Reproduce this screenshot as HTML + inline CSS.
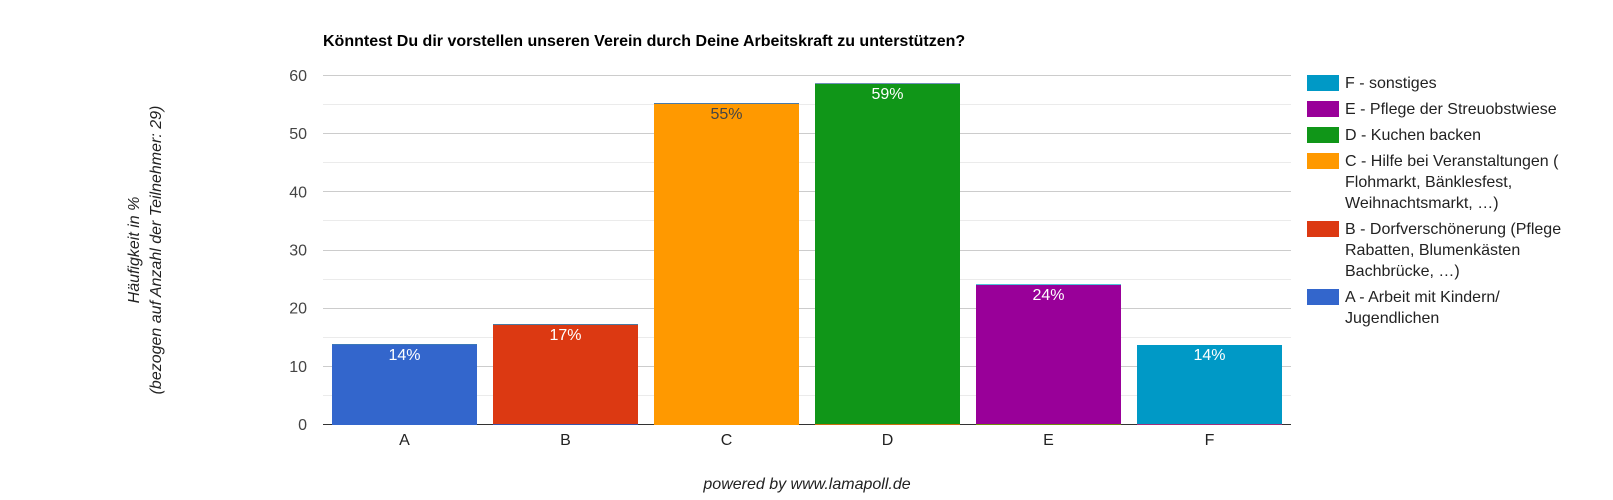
<!DOCTYPE html>
<html lang="de">
<head>
<meta charset="utf-8">
<title>Könntest Du dir vorstellen unseren Verein durch Deine Arbeitskraft zu unterstützen?</title>
<style>
html,body{margin:0;padding:0;background:#fff;width:1613px;height:500px;overflow:hidden}
svg{display:block}
text{font-family:"Liberation Sans",sans-serif;font-size:16px}
</style>
</head>
<body>
<svg id="chart" xmlns="http://www.w3.org/2000/svg" width="1613" height="500" viewBox="0 0 1613 500">
  <rect x="0" y="0" width="1613" height="500" fill="#fff"/>
  <text x="323" y="46" font-weight="bold" fill="#000">Könntest Du dir vorstellen unseren Verein durch Deine Arbeitskraft zu unterstützen?</text>
  <g id="grid"></g>
  <g id="bars"></g>
  <g id="ylabels"></g>
  <g id="xlabels"></g>
  <g id="legend"></g>
  <text transform="translate(139 250) rotate(-90)" text-anchor="middle" font-style="italic" fill="#222">Häufigkeit in %</text>
  <text transform="translate(161 250) rotate(-90)" text-anchor="middle" font-style="italic" fill="#222">(bezogen auf Anzahl der Teilnehmer: 29)</text>
  <text x="807" y="489" text-anchor="middle" font-style="italic" fill="#222">powered by www.lamapoll.de</text>
</svg>
<script>
const categories = ['A', 'B', 'C', 'D', 'E', 'F'];
const values = [13.79, 17.24, 55.17, 58.62, 24.14, 13.79];
const valueLabels = ['14%', '17%', '55%', '59%', '24%', '14%'];
const yTicks = [0, 10, 20, 30, 40, 50, 60];
const yMinorTicks = [5, 15, 25, 35, 45, 55];
const barColors = ['#3366cc', '#dc3912', '#ff9900', '#109618', '#990099', '#0099c6'];
const labelColors = ['#ffffff', '#ffffff', '#444444', '#ffffff', '#ffffff', '#ffffff'];
const capColors = ['#3b78b8', '#4a7aa0', '#4a7aa8', '#6f8fb8', '#4fc3d8', '#ffffff'];
const baseColors = ['#3366cc', '#3a55a8', '#ff9900', '#c8700f', '#6f8a10', '#a0307a'];
const legendLabels = [
  ['F - sonstiges'],
  ['E - Pflege der Streuobstwiese'],
  ['D - Kuchen backen'],
  ['C - Hilfe bei Veranstaltungen (', 'Flohmarkt, Bänklesfest,', 'Weihnachtsmarkt, …)'],
  ['B - Dorfverschönerung (Pflege', 'Rabatten, Blumenkästen', 'Bachbrücke, …)'],
  ['A - Arbeit mit Kindern/', 'Jugendlichen']
];
const legendColors = ['#0099c6', '#990099', '#109618', '#ff9900', '#dc3912', '#3366cc'];

const NS = 'http://www.w3.org/2000/svg';
const plot = {left: 323, right: 1291, top: 75.5, bottom: 424.5, max: 60};
const bandWidth = 161;
const barWidth = 145;
function yScale(v) {
  return plot.bottom - (v / plot.max) * (plot.bottom - plot.top);
}
function xLeft(i) {
  return plot.left + 9 + bandWidth * i;
}
function xCenter(i) {
  return xLeft(i) + barWidth / 2;
}
function make(tag, attrs, parent, content) {
  const el = document.createElementNS(NS, tag);
  for (const k in attrs) el.setAttribute(k, attrs[k]);
  if (content !== undefined) el.textContent = content;
  parent.appendChild(el);
  return el;
}

const grid = document.getElementById('grid');
yMinorTicks.forEach(function (t) {
  const y = Math.floor(yScale(t)) + 0.5;
  const line = make('line', {x1: plot.left, x2: plot.right, y1: y, y2: y, stroke: '#ebebeb', 'stroke-width': 1}, grid);
  
  
});
yTicks.forEach(function (t) {
  if (t === 0) return;
  const y = Math.floor(yScale(t)) + 0.5;
  const line = make('line', {x1: plot.left, x2: plot.right, y1: y, y2: y, stroke: '#cccccc', 'stroke-width': 1}, grid);
  
  
});

const ylabels = document.getElementById('ylabels');
yTicks.forEach(function (t) {
  const label = make('text', {x: 307, y: yScale(t) + 5.5, 'text-anchor': 'end', fill: '#444444'}, ylabels, String(t));
  
  
});

const bars = document.getElementById('bars');
values.forEach(function (v, i) {
  const x = xLeft(i);
  const top = Math.floor(yScale(v));
  const bottom = 424;
  const bar = make('rect', {x: x, y: top, width: barWidth, height: bottom - top, fill: barColors[i]}, bars);
  
  
  const cap = make('rect', {x: x, y: top, width: barWidth, height: 1, fill: capColors[i]}, bars);
  
  
  const label = make('text', {x: xCenter(i), y: top + 16, 'text-anchor': 'middle', fill: labelColors[i]}, bars, valueLabels[i]);
  
  
});

const axisLine = make('line', {x1: plot.left, x2: plot.right, y1: 424.5, y2: 424.5, stroke: '#333333', 'stroke-width': 1}, bars);



values.forEach(function (v, i) {
  const base = make('rect', {x: xLeft(i), y: 424, width: barWidth, height: 1, fill: baseColors[i]}, bars);
  
  
});

const xlabels = document.getElementById('xlabels');
categories.forEach(function (c, i) {
  const label = make('text', {x: xCenter(i), y: 445, 'text-anchor': 'middle', fill: '#222222'}, xlabels, c);
  
  
});

const legend = document.getElementById('legend');
let legendY = 75;
legendLabels.forEach(function (lines, i) {
  const swatch = make('rect', {x: 1307, y: legendY, width: 32, height: 16, fill: legendColors[i]}, legend);
  
  
  lines.forEach(function (line, j) {
    const text = make('text', {x: 1345, y: legendY + 13 + j * 21, fill: '#222222'}, legend, line);
    
    
  });
  legendY += lines.length * 21 + 5;
});
</script>
</body>
</html>
